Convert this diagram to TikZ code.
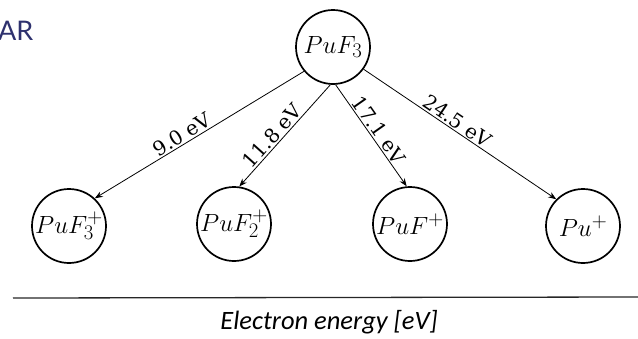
\documentclass[tikz,border=0pt]{standalone}
\usepackage{fontspec}
\newfontfamily\carlito{Carlito}
\newfontfamily\latofont{Lato}
\newfontfamily\dvserif{DejaVu Serif}
\usetikzlibrary{arrows.meta}
\definecolor{navy}{RGB}{46,49,110}
\begin{document}
\begin{tikzpicture}[x=1pt,y=-1pt,
  ion/.style={circle,draw,line width=1.7pt,minimum size=74pt,inner sep=0pt,font=\fontsize{24.88}{28}\selectfont},
  conn/.style={line width=0.8pt,-{Stealth[length=8pt,width=6pt]}},
  elabel/.style={sloped,above,inner sep=1.5pt,font=\dvserif\fontsize{20}{24}\selectfont}]
\useasboundingbox (0,0) rectangle (638,338);
\node[anchor=west,text=navy,font=\latofont\fontsize{27}{32}\selectfont,inner sep=0pt] (ar) at (-2,31) {AR};
\node[ion] (top) at (333,47) {$PuF_3$};
\node[ion] (c1) at (69,226) {$PuF_3^+$};
\node[ion] (c2) at (234,224) {$PuF_2^+$};
\node[ion] (c3) at (410,224) {$PuF^+$};
\node[ion] (c4) at (583,226) {$Pu^+$};
\draw[conn] (top.220) -- node[elabel,pos=0.56] {9.0 eV} (c1.47);
\draw[conn] (top.266) -- node[elabel,pos=0.56] {11.8 eV} (c2.82);
\draw[conn] (top.274) -- node[elabel,pos=0.5] {17.1 eV} (c3.95);
\draw[conn] (top.-36) -- node[elabel,pos=0.46] {24.5 eV} (c4.135);
\coordinate (la) at (13,298);
\coordinate (lb) at (638,297);
\draw[line width=1.3pt,black!85] (la) -- (lb);
\node[font=\carlito\itshape\fontsize{26.5}{31}\selectfont,inner sep=0pt] (axis) at (329,322) {Electron energy [eV]};
\end{tikzpicture}
\end{document}
